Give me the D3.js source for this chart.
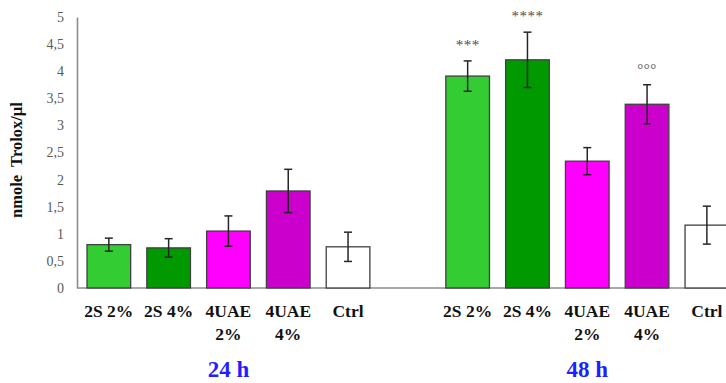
<!DOCTYPE html>
<html>
<head>
<meta charset="utf-8">
<script src="https://cdn.jsdelivr.net/npm/d3@7"></script>
<style>
  body { margin: 0; background: #fff; }
  text { font-family: "Liberation Serif", "Times New Roman", serif; }
</style>
</head>
<body>
<div id="chart"></div>
<script>
// data
const categories = ["2S 2%", "2S 4%", "4UAE 2%", "4UAE 4%", "Ctrl"];
const times = ["24 h", "48 h"];
const values24 = [0.80, 0.74, 1.05, 1.79, 0.76];
const errors24 = [0.12, 0.17, 0.28, 0.40, 0.27];
const values48 = [3.91, 4.21, 2.34, 3.39, 1.16];
const errors48 = [0.28, 0.51, 0.25, 0.36, 0.35];
const marks48 = ["***", "****", "", "°°°", ""];
const colors = ["#33cc33", "#009900", "#ff00ff", "#cc00cc", "#ffffff"];
const yTicks = [0, 0.5, 1, 1.5, 2, 2.5, 3, 3.5, 4, 4.5, 5];

const width = 726, height = 383;

const svg = d3.select("#chart")
  .append("svg")
  .attr("width", width)
  .attr("height", height);

// one row per bar, plus an empty slot between the two time groups
const rows = [];
times.forEach((t, ti) => {
  const vals = ti === 0 ? values24 : values48;
  const errs = ti === 0 ? errors24 : errors48;
  categories.forEach((c, i) => {
    rows.push({ key: t + "|" + c, time: t, cat: c, value: vals[i], err: errs[i],
      color: colors[i], mark: ti === 0 ? "" : marks48[i] });
  });
});
const slots = rows.slice(0, 5).map(d => d.key)
  .concat(["gap"])
  .concat(rows.slice(5).map(d => d.key));

const x = d3.scaleBand()
  .domain(slots)
  .range([87, 728.7])
  .paddingInner(0.27)
  .paddingOuter(0);

const y = d3.scaleLinear()
  .domain([0, 5])
  .range([288, 17]);

// Y axis
const yAxis = svg.append("g")
  .attr("transform", "translate(77,0)")
  .call(d3.axisLeft(y).tickValues(yTicks).tickSize(0).tickPadding(13)
    .tickFormat(d => String(d).replace(".", ",")));
yAxis.select(".domain").attr("stroke", "#8c8c8c").attr("stroke-width", 1.6);
yAxis.selectAll("text")
  .attr("fill", "#595959")
  .style("font-size", "14px")
  .style("font-family", "'Liberation Serif', serif");

// baseline
svg.append("line")
  .attr("x1", 77).attr("x2", width)
  .attr("y1", y(0)).attr("y2", y(0))
  .attr("stroke", "#8c8c8c")
  .attr("stroke-width", 1.6);

// Bars
svg.selectAll(".bar")
  .data(rows)
  .join("rect")
  .attr("class", "bar")
  .attr("x", d => x(d.key))
  .attr("y", d => y(d.value))
  .attr("width", x.bandwidth())
  .attr("height", d => y(0) - y(d.value))
  .attr("fill", d => d.color)
  .attr("stroke", "#404040")
  .attr("stroke-width", 1.3);

// error bars
const eb = svg.selectAll(".err")
  .data(rows)
  .join("g")
  .attr("class", "err")
  .attr("stroke", "#262626")
  .attr("stroke-width", 1.5);
eb.append("line")
  .attr("x1", d => x(d.key) + x.bandwidth() / 2)
  .attr("x2", d => x(d.key) + x.bandwidth() / 2)
  .attr("y1", d => y(d.value + d.err))
  .attr("y2", d => y(d.value - d.err));
[1, -1].forEach(s => {
  eb.append("line")
    .attr("x1", d => x(d.key) + x.bandwidth() / 2 - 4)
    .attr("x2", d => x(d.key) + x.bandwidth() / 2 + 4)
    .attr("y1", d => y(d.value + s * d.err))
    .attr("y2", d => y(d.value + s * d.err));
});

// significance marks
svg.selectAll(".mark")
  .data(rows.filter(d => d.mark))
  .join("text")
  .attr("class", "mark")
  .attr("x", d => x(d.key) + x.bandwidth() / 2)
  .attr("y", d => y(d.value + d.err) - 11)
  .attr("text-anchor", "middle")
  .attr("fill", "#4d4d4d")
  .style("font-size", "15px")
  .style("letter-spacing", "0.5px")
  .text(d => d.mark);

// category labels
const lab = svg.selectAll(".cat")
  .data(rows)
  .join("text")
  .attr("class", "cat")
  .attr("text-anchor", "middle")
  .attr("font-weight", "bold")
  .style("font-size", "17.5px")
  .attr("fill", "#111");
lab.each(function(d) {
  const lines = d.cat.startsWith("4UAE") ? d.cat.split(" ") : [d.cat];
  const cx = x(d.key) + x.bandwidth() / 2;
  d3.select(this).selectAll("tspan")
    .data(lines)
    .join("tspan")
    .attr("x", cx)
    .attr("y", (l, i) => 317 + i * 23)
    .text(l => l);
});

// time group labels
svg.selectAll(".time")
  .data(times)
  .join("text")
  .attr("class", "time")
  .attr("x", t => x(t + "|" + categories[2]) + x.bandwidth() / 2)
  .attr("y", 377)
  .attr("text-anchor", "middle")
  .attr("font-weight", "bold")
  .style("font-size", "23px")
  .attr("fill", "#1f1fff")
  .text(t => t);

// y axis title
svg.append("text")
  .attr("transform", "translate(22,160) rotate(-90)")
  .attr("text-anchor", "middle")
  .attr("font-weight", "bold")
  .style("font-size", "16.5px")
  .attr("fill", "#111")
  .style("white-space", "pre")
  .text("nmole  Trolox/µl");
</script>
</body>
</html>
